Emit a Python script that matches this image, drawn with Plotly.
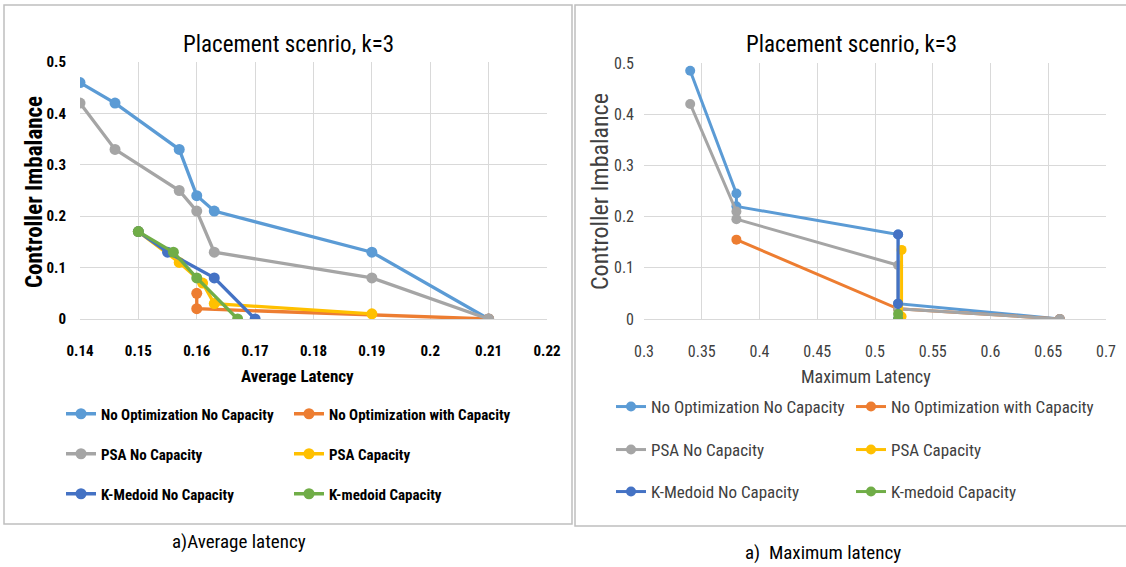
import plotly.graph_objects as go

# ---------------- data ----------------
series_names = ["No Optimization No Capacity", "No Optimization with Capacity",
                "PSA No Capacity", "PSA Capacity",
                "K-Medoid No Capacity", "K-medoid Capacity"]
series_colors = ["#5B9BD5", "#ED7D31", "#A5A5A5", "#FFC000", "#4472C4", "#70AD47"]

# Left panel: Average latency
avg_noopt_nocap_x = [0.14, 0.146, 0.157, 0.16, 0.163, 0.19, 0.21]
avg_noopt_nocap_y = [0.46, 0.42, 0.33, 0.24, 0.21, 0.13, 0.0]
avg_noopt_cap_x = [0.16, 0.16, 0.21]
avg_noopt_cap_y = [0.05, 0.02, 0.0]
avg_psa_nocap_x = [0.14, 0.146, 0.157, 0.16, 0.163, 0.19, 0.21]
avg_psa_nocap_y = [0.42, 0.33, 0.25, 0.21, 0.13, 0.08, 0.0]
avg_psa_cap_x = [0.15, 0.157, 0.161, 0.163, 0.19]
avg_psa_cap_y = [0.17, 0.11, 0.07, 0.03, 0.01]
avg_kmed_nocap_x = [0.15, 0.155, 0.163, 0.17]
avg_kmed_nocap_y = [0.17, 0.13, 0.08, 0.0]
avg_kmed_cap_x = [0.15, 0.156, 0.16, 0.167]
avg_kmed_cap_y = [0.17, 0.13, 0.08, 0.0]

# Right panel: Maximum latency
max_noopt_nocap_x = [0.34, 0.38, 0.38, 0.52, 0.52, 0.66]
max_noopt_nocap_y = [0.485, 0.245, 0.22, 0.165, 0.03, 0.0]
max_noopt_cap_x = [0.38, 0.52, 0.66]
max_noopt_cap_y = [0.155, 0.02, 0.0]
max_psa_nocap_x = [0.34, 0.38, 0.38, 0.52, 0.52, 0.66]
max_psa_nocap_y = [0.42, 0.21, 0.195, 0.105, 0.02, 0.0]
max_psa_cap_x = [0.523, 0.523]
max_psa_cap_y = [0.135, 0.005]
max_kmed_nocap_x = [0.52, 0.52, 0.52]
max_kmed_nocap_y = [0.165, 0.03, 0.0]
max_kmed_cap_x = [0.52, 0.52]
max_kmed_cap_y = [0.01, 0.0]

avg_series = [(avg_noopt_nocap_x, avg_noopt_nocap_y), (avg_noopt_cap_x, avg_noopt_cap_y),
              (avg_psa_nocap_x, avg_psa_nocap_y), (avg_psa_cap_x, avg_psa_cap_y),
              (avg_kmed_nocap_x, avg_kmed_nocap_y), (avg_kmed_cap_x, avg_kmed_cap_y)]
max_series = [(max_noopt_nocap_x, max_noopt_nocap_y), (max_noopt_cap_x, max_noopt_cap_y),
              (max_psa_nocap_x, max_psa_nocap_y), (max_psa_cap_x, max_psa_cap_y),
              (max_kmed_nocap_x, max_kmed_nocap_y), (max_kmed_cap_x, max_kmed_cap_y)]

chart_title = "Placement scenrio, k=3"
y_title = "Controller Imbalance"
left_x_title = "Average Latency"
right_x_title = "Maximum Latency"
left_caption = "a)Average latency"
right_caption = "a)  Maximum latency"

# ---------------- figure ----------------
W, H = 1126, 567
FONT = "Roboto Condensed, Lato, sans-serif"
TXT = "#404040"
BLK = "#000000"
GRID = "#D9D9D9"

def px(x):
    return x / W

def py(y):
    return 1 - y / H

fig = go.Figure()

# one legend per entry so every entry sits exactly where the reference has it
left_legends = ["legend", "legend2", "legend3", "legend4", "legend5", "legend6"]
right_legends = ["legend7", "legend8", "legend9", "legend10", "legend11", "legend12"]

for i, (xs, ys) in enumerate(avg_series):
    fig.add_trace(go.Scatter(
        x=xs, y=ys, mode="lines+markers", name=series_names[i],
        line=dict(color=series_colors[i], width=3.3),
        marker=dict(color=series_colors[i], size=11),
        xaxis="x", yaxis="y", legend=left_legends[i], showlegend=True))

for i, (xs, ys) in enumerate(max_series):
    fig.add_trace(go.Scatter(
        x=xs, y=ys, mode="lines+markers", name=series_names[i],
        line=dict(color=series_colors[i], width=3),
        marker=dict(color=series_colors[i], size=10),
        xaxis="x2", yaxis="y2", legend=right_legends[i], showlegend=True))

grid = dict(showgrid=True, gridcolor=GRID, gridwidth=1, zeroline=False, ticks="")

fig.update_layout(
    width=W, height=H, showlegend=True,
    margin=dict(l=0, r=0, t=0, b=0, autoexpand=False),
    paper_bgcolor="white", plot_bgcolor="white",
    font=dict(family=FONT, color=TXT),
    xaxis=dict(domain=[px(80), px(547)], range=[0.14, 0.22], dtick=0.01, tick0=0.14,
               anchor="y", ticklabelstandoff=18,
               tickfont=dict(size=15, family=FONT, color=BLK, weight="bold"),
               showline=True, linecolor=GRID, **grid),
    yaxis=dict(domain=[py(319), py(62)], range=[0, 0.5], dtick=0.1, anchor="x",
               ticklabelstandoff=13, showline=False,
               tickfont=dict(size=15, family=FONT, color=BLK, weight="bold"), **grid),
    xaxis2=dict(domain=[px(644), px(1106)], range=[0.3, 0.7], dtick=0.05, tick0=0.3,
                anchor="y2", ticklabelstandoff=18,
                tickfont=dict(size=16, family=FONT, color=TXT),
                showline=True, linecolor=GRID, **grid),
    yaxis2=dict(domain=[py(319), py(63)], range=[0, 0.5], dtick=0.1, anchor="x2",
                ticklabelstandoff=9, showline=False,
                tickfont=dict(size=16, family=FONT, color=TXT), **grid),
)

# legend positions: (column left x, row center y)
left_cols_x = [61, 289]
left_rows_y = [414, 454, 494]
right_cols_x = [611, 851]
right_rows_y = [407, 450, 492]
for i, name in enumerate(left_legends):
    fig.update_layout({name: dict(orientation="h", x=px(left_cols_x[i % 2]), y=py(left_rows_y[i // 2]),
                                  xanchor="left", yanchor="middle", visible=True,
                                  bgcolor="rgba(0,0,0,0)",
                                  font=dict(size=15, family=FONT, color=BLK, weight="bold"))})
for i, name in enumerate(right_legends):
    fig.update_layout({name: dict(orientation="h", x=px(right_cols_x[i % 2]), y=py(right_rows_y[i // 2]),
                                  xanchor="left", yanchor="middle", visible=True,
                                  bgcolor="rgba(0,0,0,0)",
                                  font=dict(size=17, family=FONT, color=TXT))})

annotations = [
    dict(text=chart_title, x=px(288), y=py(45), font=dict(size=23, family=FONT, color=BLK)),
    dict(text=chart_title, x=px(851), y=py(45), font=dict(size=23, family=FONT, color=BLK)),
    dict(text=left_x_title, x=px(297), y=py(376), font=dict(size=17, family=FONT, color=BLK, weight="bold")),
    dict(text=right_x_title, x=px(866), y=py(376), font=dict(size=18, family=FONT, color=TXT)),
    dict(text=y_title, x=px(34), y=py(192), textangle=-90, font=dict(size=23, family=FONT, color=BLK, weight="bold")),
    dict(text=y_title, x=px(600), y=py(192), textangle=-90, font=dict(size=24, family=FONT, color=TXT)),
    dict(text=left_caption, x=px(239), y=py(541), font=dict(size=19, family=FONT, color=BLK)),
    dict(text=right_caption, x=px(823), y=py(552), font=dict(size=19, family=FONT, color=BLK)),
]
for a in annotations:
    a.update(xref="paper", yref="paper", showarrow=False, xanchor="center", yanchor="middle")
fig.update_layout(annotations=annotations)

# panel frames
fig.update_layout(shapes=[
    dict(type="rect", xref="paper", yref="paper", x0=px(4), x1=px(572), y0=py(524), y1=py(5),
         line=dict(color="#BFBFBF", width=1.5)),
    dict(type="rect", xref="paper", yref="paper", x0=px(575), x1=px(1130), y0=py(526), y1=py(5),
         line=dict(color="#BFBFBF", width=1.5)),
])

fig.write_html("out.html", config={"displayModeBar": False},
               post_script="document.body.style.margin='0px';document.body.style.overflow='hidden';")
